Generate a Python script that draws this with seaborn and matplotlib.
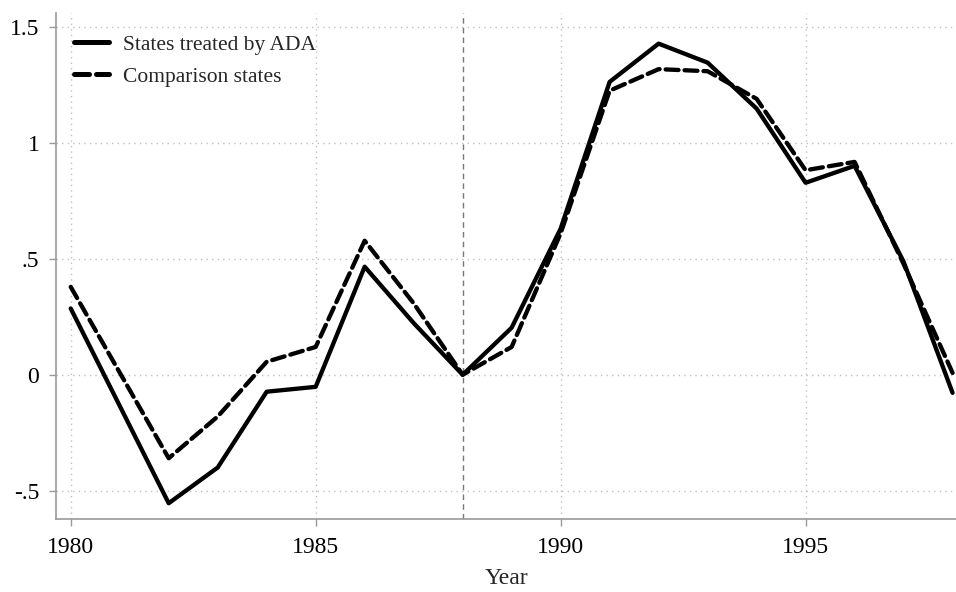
import matplotlib
matplotlib.use("Agg")
import matplotlib.pyplot as plt
import seaborn as sns
import pandas as pd

years = list(range(1980, 1999))
treated = [0.286, None, -0.554, -0.40, -0.073, -0.052, 0.466, 0.223, 0.0,
           0.203, 0.63, 1.263, 1.428, 1.346, 1.148, 0.828, 0.901, 0.488, -0.078]
comparison = [0.379, None, -0.36, -0.18, 0.056, 0.12, 0.578, 0.308, 0.0,
              0.12, 0.61, 1.225, 1.318, 1.309, 1.19, 0.882, 0.918, 0.478, 0.008]
series_names = ["States treated by ADA", "Comparison states"]
ytick_values = [-0.5, 0, 0.5, 1, 1.5]
ytick_labels = ["-.5", "0", ".5", "1", "1.5"]
xtick_values = [1980, 1985, 1990, 1995]
treatment_year = 1988

rows = []
for name, vals in zip(series_names, [treated, comparison]):
    for yr, v in zip(years, vals):
        if v is not None:
            rows.append({"Year": yr, "value": v, "group": name})
df = pd.DataFrame(rows)

sns.set_style("white")
plt.rcParams["font.family"] = ["Liberation Serif", "DejaVu Serif"]

fig = plt.figure(figsize=(9.56, 5.92), dpi=100)
ax = fig.add_axes([0.0586, 0.1233, 0.9414, 0.8547])

sns.lineplot(data=df, x="Year", y="value", style="group",
             style_order=series_names,
             dashes={series_names[0]: "", series_names[1]: (3, 1.4)},
             color="black", linewidth=3.1, ax=ax, legend=True)
for line in ax.get_lines():
    line.set_dash_capstyle("round")
    line.set_solid_capstyle("round")

ax.axvline(treatment_year, color="#777777", linestyle=(0, (4, 3)),
           linewidth=1.0, zorder=1)

ax.set_xlim(1979.7, 1998.07)
ax.set_ylim(-0.622, 1.56)
ax.set_xticks(xtick_values)
ax.set_yticks(ytick_values)
ax.set_yticklabels(ytick_labels)

ax.grid(True, color="#c0c0c0", linestyle=(0, (1, 3)), linewidth=1.0)
ax.set_axisbelow(True)

for side in ["top", "right"]:
    ax.spines[side].set_visible(False)
for side in ["left", "bottom"]:
    ax.spines[side].set_color("#999999")
    ax.spines[side].set_linewidth(1.2)

ax.tick_params(axis="both", which="major", direction="out", length=5,
               width=1.0, color="#999999", labelsize=17, labelcolor="black",
               left=True, bottom=True)
ax.tick_params(axis="x", pad=8)
ax.tick_params(axis="y", pad=7)
ax.set_xlabel("Year", fontsize=17, labelpad=7)
ax.set_ylabel("")

leg = ax.legend(loc="upper left", bbox_to_anchor=(-0.001, 0.995), frameon=False,
                fontsize=15.5, handlelength=1.6, handletextpad=0.65,
                labelspacing=0.55)
for h in leg.get_lines():
    h.set_linewidth(3.6)
    h.set_color("black")

fig.savefig("out.png", dpi=100)
